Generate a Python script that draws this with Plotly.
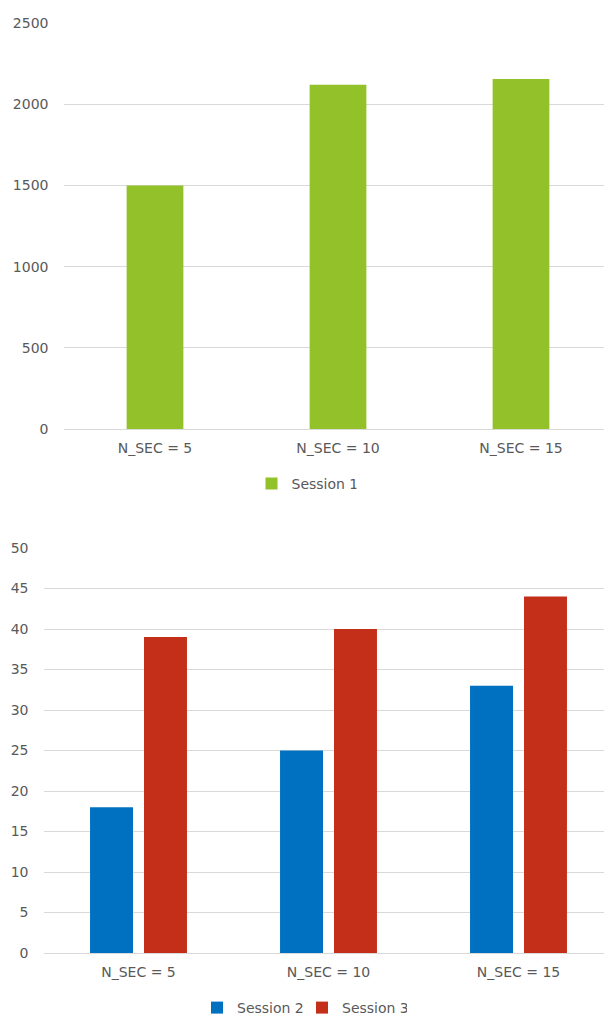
import plotly.graph_objects as go

categories = ["N_SEC = 5", "N_SEC = 10", "N_SEC = 15"]
session1 = [1500, 2120, 2155]
session2 = [18, 25, 33]
session3 = [39, 40, 44]

top_ticks = [0, 500, 1000, 1500, 2000, 2500]
bottom_ticks = [0, 5, 10, 15, 20, 25, 30, 35, 40, 45, 50]

GREEN = "#92C12A"
BLUE = "#0070C0"
RED = "#C42F1A"
TXT = "#595959"
GRID = "#D9D9D9"
FONT = "DejaVu Sans"

fig = go.Figure()
fig.add_trace(go.Bar(x=categories, y=session1, name="Session 1", marker_color=GREEN,
                     marker_line_width=0, width=0.31, xaxis="x", yaxis="y",
                     legend="legend", showlegend=True))
fig.add_trace(go.Bar(x=categories, y=session2, name="Session 2", marker_color=BLUE,
                     marker_line_width=0, xaxis="x2", yaxis="y2", legend="legend2",
                     showlegend=True))
fig.add_trace(go.Bar(x=categories, y=session3, name="Session 3", marker_color=RED,
                     marker_line_width=0, xaxis="x2", yaxis="y2", legend="legend2",
                     showlegend=True))

W, H = 604, 1016
axis_common = dict(showgrid=True, gridcolor=GRID, gridwidth=1, zeroline=False,
                   tickfont=dict(family=FONT, size=14, color=TXT), ticklabelstandoff=14,
                   showline=False, ticks="")
legend_common = dict(orientation="h", xanchor="center", yanchor="middle",
                     font=dict(family=FONT, size=14, color=TXT), itemwidth=30,
                     bgcolor="rgba(0,0,0,0)", entrywidth=60)
fig.update_layout(
    width=W, height=H, margin=dict(l=0, r=0, t=0, b=0, autoexpand=False),
    paper_bgcolor="white", plot_bgcolor="white", showlegend=True,
    font=dict(family=FONT, size=14, color=TXT),
    barmode="group", bargap=0.432, bargroupgap=0.204,
    xaxis=dict(domain=[63.5 / W, 1], anchor="y", type="category",
               range=[-0.5, (604 - 63.5) / 183 - 0.5],
               tickfont=dict(family=FONT, size=14, color=TXT), showgrid=False,
               showline=True, linecolor=GRID, linewidth=1, ticks="", ticklabelstandoff=6),
    yaxis=dict(domain=[1 - 429 / H, 1 - 23 / H], anchor="x", range=[0, 2500],
               tickvals=top_ticks, **axis_common),
    xaxis2=dict(domain=[43.5 / W, 1], anchor="y2", type="category",
                range=[-0.5, (604 - 43.5) / 190 - 0.5],
                tickfont=dict(family=FONT, size=14, color=TXT), showgrid=False,
                showline=True, linecolor=GRID, linewidth=1, ticks="", ticklabelstandoff=6),
    yaxis2=dict(domain=[1 - 953 / H, 1 - 548 / H], anchor="x2", range=[0, 50],
                tickvals=bottom_ticks, **axis_common),
    legend=dict(x=304 / W, y=1 - 484 / H, **legend_common),
    legend2=dict(x=302 / W, y=1 - 1008 / H, **legend_common),
)

fig.write_html("out.html")
